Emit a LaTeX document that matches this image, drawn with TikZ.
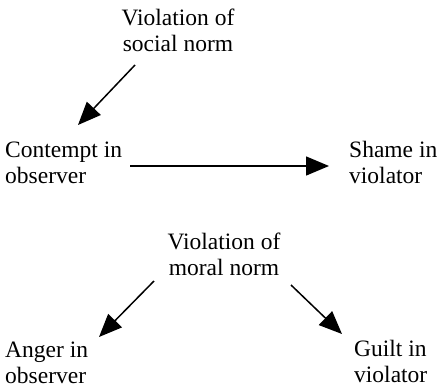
\documentclass[tikz,border=0pt]{standalone}
\usepackage{fontspec}
\setmainfont{Liberation Serif}
\usetikzlibrary{arrows.meta}
\begin{document}
\begin{tikzpicture}[x=1pt,y=-1pt,
  lbl/.style={inner sep=0pt,font=\fontsize{23.5}{26}\selectfont},
  arr/.style={line width=1.5pt,-{Triangle[length=23pt,width=19pt]}}]
\useasboundingbox (0,0) rectangle (439,388);
% social norm violation (anchors sit on the last line's baseline)
\node[lbl,align=center,anchor=base] (soc) at (178,51) {Violation of\\social norm};
\node[lbl,align=left,anchor=base west] (con) at (5,183) {Contempt in\\observer};
\node[lbl,align=left,anchor=base west] (sha) at (349,183) {Shame in\\violator};
% moral norm violation
\node[lbl,align=center,anchor=base] (mor) at (224,275) {Violation of\\moral norm};
\node[lbl,align=left,anchor=base west] (ang) at (5,383) {Anger in\\observer};
\node[lbl,align=left,anchor=base west] (gui) at (354,382) {Guilt in\\violator};
% arrow end points
\coordinate (s1) at (135,65);  \coordinate (t1) at (78,125);
\coordinate (s2) at (130,166); \coordinate (t2) at (329,166);
\coordinate (s3) at (154,281); \coordinate (t3) at (99,337);
\coordinate (s4) at (291,285); \coordinate (t4) at (342,334);
\draw[arr] (s1) -- (t1);
\draw[arr] (s2) -- (t2);
\draw[arr] (s3) -- (t3);
\draw[arr] (s4) -- (t4);
\end{tikzpicture}
\end{document}
